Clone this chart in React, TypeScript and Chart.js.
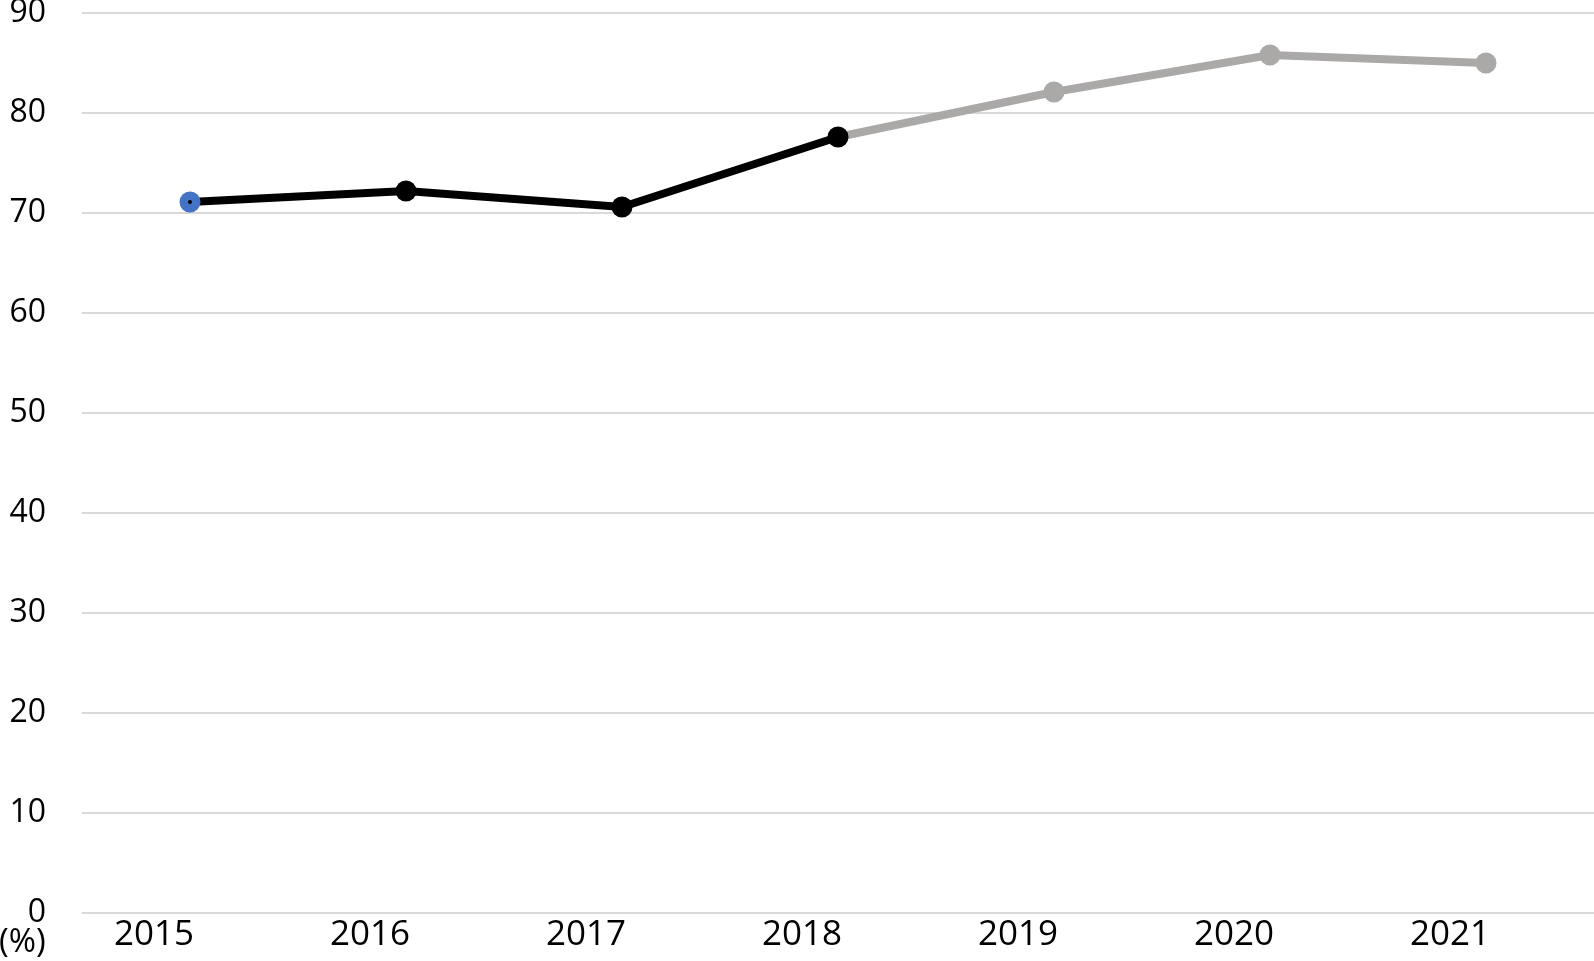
import React, { useEffect, useRef } from "react";
import { Chart, registerables } from "chart.js";

Chart.register(...registerables);

const years = ["2015", "2016", "2017", "2018", "2019", "2020", "2021"];
const shares = [71.1, 72.2, 70.6, 77.6, 82.1, 85.8, 85.0];
const firstMarker = [71.1, null, null, null, null, null, null];
const yTicks = [0, 10, 20, 30, 40, 50, 60, 70, 80, 90];
const unitLabel = "(%)";

const BLACK = "#000000";
const GREY = "#ABA8A8";
const BLUE = "#4472C4";
const FONT = "'Open Sans', 'Noto Sans', sans-serif";

export default function App() {
  const ref = useRef<HTMLCanvasElement | null>(null);

  useEffect(() => {
    if (!ref.current) return;
    const unitPlugin = {
      id: "unitLabel",
      afterDraw(chart: any) {
        const { ctx, chartArea } = chart;
        ctx.save();
        ctx.font = `33px ${FONT}`;
        ctx.fillStyle = "#000";
        ctx.textAlign = "left";
        ctx.textBaseline = "middle";
        ctx.fillText(unitLabel, chartArea.left - 83, chartArea.bottom + 30);
        ctx.restore();
      },
    };
    const chart = new Chart(ref.current, {
      type: "line",
      data: {
        labels: years,
        datasets: [
          {
            data: firstMarker,
            showLine: false,
            pointRadius: 2,
            pointBackgroundColor: BLACK,
            pointBorderWidth: 0,
            order: 0,
          },
          {
            data: shares,
            borderWidth: 8,
            borderColor: BLACK,
            segment: {
              borderColor: (c: any) => (c.p0DataIndex >= 3 ? GREY : BLACK),
            },
            pointRadius: 10.5,
            pointBorderWidth: 0,
            pointBackgroundColor: shares.map((_, i) =>
              i === 0 ? BLUE : i <= 3 ? BLACK : GREY
            ),
            tension: 0,
            order: 1,
          },
        ],
      },
      options: {
        animation: false,
        responsive: false,
        layout: { autoPadding: false, padding: { top: 13, right: 0, left: 0, bottom: 0 } },
        plugins: { legend: { display: false }, tooltip: { enabled: false } },
        scales: {
          x: {
            type: "category",
            offset: true,
            grid: {
              display: true,
              drawOnChartArea: false,
              drawTicks: true,
              tickLength: 5,
              tickColor: "rgba(0,0,0,0)",
            },
            border: { display: false },
            ticks: {
              color: "#000",
              font: { family: FONT, size: 35, lineHeight: 1 },
              labelOffset: -36,
              padding: 0,
              maxRotation: 0,
              autoSkip: false,
            },
            afterFit: (s: any) => {
              s.height = 48;
              s.paddingLeft = 0;
              s.paddingRight = 0;
            },
          },
          y: {
            min: 0,
            max: 90,
            afterBuildTicks: (s: any) => {
              s.ticks = yTicks.map((v) => ({ value: v }));
            },
            grid: {
              color: "#D9D9D9",
              lineWidth: 2,
              drawTicks: true,
              tickLength: 36,
              tickColor: "rgba(0,0,0,0)",
            },
            border: { display: false },
            ticks: {
              color: "#000",
              font: { family: FONT, size: 32, lineHeight: 0.8 },
              padding: 0,
            },
            afterFit: (s: any) => {
              s.width = 82;
              s.paddingTop = 0;
              s.paddingBottom = 0;
            },
          },
        },
      },
      plugins: [unitPlugin],
    });
    return () => chart.destroy();
  }, []);

  return (
    <div style={{ position: "absolute", left: 0, top: 0, width: 1594, height: 961, background: "#fff" }}>
      <canvas ref={ref} width={1594} height={961} style={{ display: "block" }} />
    </div>
  );
}
